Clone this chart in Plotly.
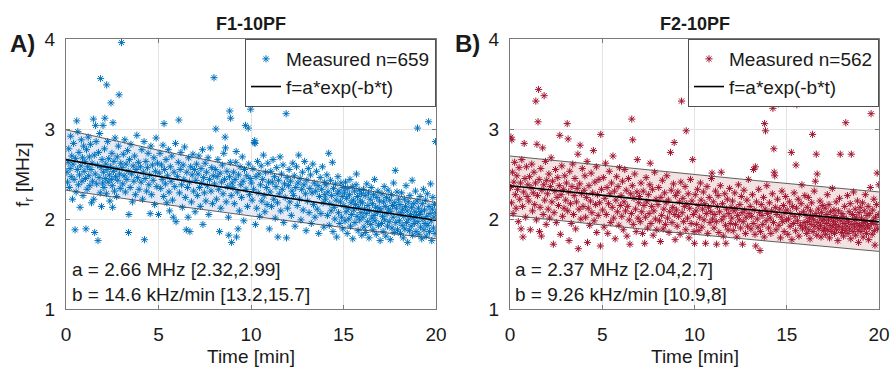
import numpy as np
import plotly.graph_objects as go

FONT = "Liberation Sans, Arial, sans-serif"
W, H = 893, 368

# ---------------- data ----------------
titles = ["F1-10PF", "F2-10PF"]
panel_labels = ["A)", "B)"]
x_ticks = [0, 5, 10, 15, 20]
y_ticks = [1, 2, 3, 4]

# fit parameters: a [MHz], b [1/min] (shown as kHz/min), confidence bounds
a_fit = [2.66, 2.37]
b_fit = [0.0146, 0.00926]
a_ci = [[2.32, 2.99], [2.04, 2.70]]
b_ci = [[0.0132, 0.0157], [0.0109, 0.0080]]
n_points = [659, 562]
fit_text_a = ["a = 2.66 MHz [2.32,2.99]", "a = 2.37 MHz [2.04,2.7]"]
fit_text_b = ["b = 14.6 kHz/min [13.2,15.7]", "b = 9.26 kHz/min [10.9,8]"]

# measured points panel A (time [min], f_r [MHz])
meas_a = [
    (0.05,2.52),(0.08,2.41),(0.12,2.63),(0.15,2.78),(0.18,2.35),(0.22,2.56),(0.25,2.92),(0.28,2.47),(0.31,2.70),(0.35,2.22),(0.38,2.61),(0.41,2.84),(0.44,2.44),(0.49,1.88),(0.52,2.67),(0.55,2.30),(0.58,3.09),(0.61,2.55),(0.64,2.97),(0.67,2.38),(0.70,2.74),(0.73,2.49),(0.76,2.13),(0.80,2.59),(0.83,2.88),(0.86,2.42),(0.89,2.68),(0.92,2.26),(0.95,2.81),(0.98,2.53),
    (1.02,2.64),(1.05,2.45),(1.08,1.89),(1.11,2.77),(1.14,2.33),(1.17,2.58),(1.20,2.91),(1.23,2.48),(1.26,2.69),(1.29,2.37),(1.32,2.83),(1.35,2.55),(1.38,2.18),(1.41,2.62),(1.44,2.42),(1.48,3.11),(1.50,2.22),(1.53,2.71),(1.55,1.85),(1.58,2.50),(1.60,3.04),(1.63,2.86),(1.66,2.39),(1.70,2.60),(1.73,1.76),(1.76,2.74),(1.79,2.46),(1.82,2.95),(1.85,2.29),(1.87,3.56),(1.90,2.57),(1.92,2.14),(1.95,2.66),(1.98,2.40),
    (2.00,3.04),(2.02,2.52),(2.05,2.35),(2.08,2.78),(2.10,3.12),(2.12,2.45),(2.15,2.61),(2.18,2.28),(2.20,3.49),(2.22,2.55),(2.25,2.86),(2.28,2.41),(2.31,2.67),(2.34,2.49),(2.37,2.20),(2.40,2.58),(2.43,3.29),(2.45,2.44),(2.48,2.73),(2.50,2.37),(2.52,2.13),(2.54,3.07),(2.56,2.53),(2.59,2.64),(2.62,2.31),(2.65,2.90),(2.68,2.47),(2.71,2.56),(2.74,2.25),(2.77,2.69),(2.80,2.43),(2.83,2.81),(2.87,3.38),(2.90,2.50),(2.93,2.34),(2.96,2.62),
    (3.00,3.96),(3.03,2.57),(3.07,2.39),(3.10,2.72),(3.14,2.48),(3.18,2.88),(3.21,2.30),(3.25,2.61),(3.29,2.44),(3.33,2.76),(3.36,2.53),(3.38,1.85),(3.40,2.05),(3.43,2.66),(3.47,2.35),(3.51,2.83),(3.55,2.50),(3.59,2.19),(3.63,2.59),(3.67,2.42),(3.71,2.70),(3.75,2.27),(3.79,2.55),(3.83,2.93),(3.87,2.46),(3.91,2.63),(3.95,2.33),
    (4.02,2.58),(4.06,2.41),(4.10,2.77),(4.14,2.22),(4.18,2.52),(4.22,2.86),(4.24,1.77),(4.28,2.45),(4.32,2.64),(4.36,2.31),(4.40,2.57),(4.44,2.73),(4.48,2.38),(4.52,2.49),(4.55,2.06),(4.59,2.81),(4.63,2.27),(4.67,2.60),(4.71,2.43),(4.75,2.68),(4.79,2.16),(4.83,2.53),(4.87,2.90),(4.91,2.36),(4.95,2.62),
    (5.00,2.05),(5.04,2.51),(5.08,2.73),(5.12,2.34),(5.16,2.60),(5.20,2.44),(5.24,2.82),(5.28,2.25),(5.30,3.06),(5.33,2.55),(5.37,2.39),(5.41,2.66),(5.45,2.18),(5.49,2.48),(5.53,2.77),(5.57,2.30),(5.60,2.09),(5.64,2.58),(5.68,2.42),(5.72,2.70),(5.76,2.21),(5.80,2.02),(5.84,2.52),(5.88,2.36),(5.92,2.84),(5.95,1.97),
    (6.03,2.47),(6.07,2.63),(6.10,3.10),(6.13,2.29),(6.17,2.55),(6.21,2.74),(6.25,2.38),(6.29,2.13),(6.33,2.60),(6.37,2.44),(6.41,2.80),(6.45,2.24),(6.50,1.88),(6.53,2.52),(6.57,2.35),(6.60,2.02),(6.63,2.68),(6.67,2.41),(6.70,1.86),(6.74,2.58),(6.78,2.19),(6.82,2.49),(6.86,2.72),(6.90,2.31),(6.94,2.55),(6.98,2.08),
    (7.02,2.43),(7.06,2.61),(7.10,2.26),(7.14,2.50),(7.18,2.70),(7.22,2.35),(7.26,2.14),(7.30,2.56),(7.34,2.40),(7.38,2.77),(7.40,1.94),(7.44,2.46),(7.48,2.29),(7.52,2.62),(7.56,2.20),(7.60,2.52),(7.64,2.37),(7.68,2.68),(7.72,2.05),(7.76,2.44),(7.80,2.79),(7.84,2.31),(7.88,2.57),(7.92,2.17),(7.96,2.48),
    (8.00,3.57),(8.03,2.39),(8.07,2.55),(8.10,3.00),(8.13,2.22),(8.17,2.47),(8.21,2.66),(8.25,2.33),(8.30,1.86),(8.33,2.51),(8.37,2.12),(8.41,2.41),(8.45,2.60),(8.49,2.28),(8.53,2.73),(8.57,2.44),(8.60,2.91),(8.62,2.79),(8.66,2.19),(8.70,2.53),(8.74,2.36),(8.78,2.02),(8.80,1.82),(8.84,2.47),(8.85,3.20),(8.88,2.63),(8.90,3.12),(8.93,2.26),(8.95,1.74),(8.98,2.40),
    (9.02,2.35),(9.06,2.52),(9.10,2.17),(9.14,2.44),(9.18,2.63),(9.20,2.75),(9.22,1.80),(9.26,2.30),(9.30,1.89),(9.33,2.49),(9.37,2.09),(9.41,2.58),(9.45,2.38),(9.49,2.24),(9.53,2.69),(9.57,2.42),(9.61,1.98),(9.65,2.55),(9.70,3.04),(9.73,2.33),(9.77,2.48),(9.81,2.14),(9.85,3.01),(9.88,2.61),(9.92,2.27),(9.96,2.45),(9.98,3.22),
    (10.02,2.40),(10.06,2.21),(10.10,2.56),(10.14,2.33),(10.18,2.85),(10.20,2.87),(10.22,2.84),(10.24,1.94),(10.27,2.47),(10.31,2.12),(10.35,2.64),(10.39,2.29),(10.43,2.50),(10.47,2.03),(10.51,2.38),(10.55,2.59),(10.59,2.20),(10.63,2.44),(10.67,2.71),(10.71,2.26),(10.75,2.08),(10.79,2.52),(10.83,2.35),(10.87,2.16),(10.91,2.62),(10.95,2.41),(10.99,1.89),
    (11.03,2.30),(11.07,2.53),(11.11,2.14),(11.15,2.41),(11.19,2.66),(11.23,2.22),(11.27,2.47),(11.31,2.01),(11.35,2.36),(11.39,2.57),(11.43,2.18),(11.45,1.80),(11.49,2.43),(11.53,2.28),(11.57,2.69),(11.61,2.09),(11.65,2.50),(11.69,2.33),(11.73,2.60),(11.77,1.96),(11.81,2.39),(11.85,2.24),(11.90,3.17),(11.92,1.79),(11.95,2.46),(11.98,2.12),
    (12.02,2.37),(12.06,2.55),(12.10,2.19),(12.14,2.42),(12.18,2.04),(12.22,2.31),(12.26,2.62),(12.30,2.26),(12.34,2.48),(12.38,1.92),(12.42,2.35),(12.46,2.58),(12.50,2.15),(12.54,2.40),(12.58,2.71),(12.62,2.22),(12.66,2.45),(12.70,1.99),(12.74,2.33),(12.78,2.52),(12.82,2.10),(12.86,2.38),(12.90,2.64),(12.94,2.28),(12.98,1.87),
    (13.02,2.43),(13.06,2.20),(13.10,2.56),(13.14,2.07),(13.18,2.34),(13.22,2.49),(13.26,1.95),(13.30,2.29),(13.34,2.61),(13.38,2.16),(13.42,2.40),(13.46,2.02),(13.50,2.31),(13.54,2.53),(13.58,2.11),(13.62,2.37),(13.66,1.84),(13.70,2.25),(13.74,2.46),(13.78,2.06),(13.82,2.33),(13.86,2.58),(13.90,2.18),(13.94,1.91),(13.98,2.41),(13.99,2.27),
    (14.02,2.22),(14.06,2.38),(14.10,2.49),(14.13,2.04),(14.16,2.30),(14.20,2.73),(14.23,1.93),(14.26,2.17),(14.30,2.43),(14.33,2.09),(14.36,2.26),(14.40,2.63),(14.43,1.86),(14.46,2.34),(14.50,2.13),(14.53,2.00),(14.56,2.39),(14.60,2.21),(14.63,1.80),(14.66,2.28),(14.70,2.47),(14.73,2.07),(14.76,2.31),(14.80,1.95),(14.83,2.19),(14.86,2.40),(14.90,2.02),(14.93,2.25),(14.96,1.89),(14.99,2.35),
    (15.02,2.15),(15.05,2.29),(15.08,1.98),(15.11,2.41),(15.14,2.08),(15.17,2.23),(15.20,1.84),(15.23,2.34),(15.26,2.12),(15.29,2.00),(15.32,2.27),(15.35,2.44),(15.38,1.92),(15.41,2.18),(15.44,2.05),(15.47,2.36),(15.50,1.78),(15.53,2.21),(15.56,2.10),(15.59,2.31),(15.62,1.96),(15.65,2.16),(15.68,2.38),(15.70,2.50),(15.73,2.03),(15.76,2.25),(15.79,1.87),(15.82,2.13),(15.85,2.32),(15.88,1.99),(15.91,2.20),(15.94,2.07),(15.97,2.28),(15.99,1.82),
    (16.02,2.18),(16.05,2.02),(16.08,2.33),(16.11,1.91),(16.14,2.11),(16.17,2.26),(16.20,1.85),(16.23,2.06),(16.26,2.39),(16.29,1.97),(16.32,2.15),(16.35,2.29),(16.38,1.79),(16.41,2.09),(16.44,2.22),(16.47,1.94),(16.50,2.35),(16.53,2.01),(16.56,2.17),(16.59,1.88),(16.62,2.27),(16.65,2.04),(16.68,2.44),(16.71,1.98),(16.74,2.13),(16.77,1.83),(16.80,2.24),(16.83,2.07),(16.86,2.31),(16.89,1.93),(16.92,2.12),(16.95,2.20),(16.98,1.76),
    (17.02,2.10),(17.05,1.95),(17.08,2.28),(17.11,2.03),(17.14,1.86),(17.17,2.19),(17.20,2.36),(17.23,1.99),(17.26,2.14),(17.29,1.81),(17.32,2.24),(17.35,2.06),(17.38,1.92),(17.41,2.32),(17.44,2.11),(17.47,1.97),(17.50,2.21),(17.53,1.77),(17.56,2.08),(17.59,2.27),(17.62,1.90),(17.65,2.15),(17.68,2.02),(17.71,2.40),(17.74,1.85),(17.77,2.18),(17.80,2.54),(17.83,1.96),(17.86,2.12),(17.89,2.30),(17.92,1.88),(17.95,2.05),(17.98,2.22),
    (18.02,1.98),(18.05,2.16),(18.08,1.84),(18.11,2.07),(18.14,2.29),(18.17,1.93),(18.20,2.11),(18.23,1.79),(18.26,2.03),(18.29,2.22),(18.32,1.89),(18.35,2.14),(18.38,2.37),(18.41,1.96),(18.44,2.09),(18.47,1.74),(18.50,2.19),(18.53,2.00),(18.56,1.87),(18.59,2.26),(18.62,2.05),(18.65,1.92),(18.68,2.13),(18.71,2.43),(18.74,1.82),(18.77,2.01),(18.80,2.17),(18.83,1.95),(18.86,2.08),(18.89,2.31),(18.92,1.86),(18.95,2.04),(18.98,2.20),
    (19.00,3.01),(19.02,1.97),(19.05,2.12),(19.08,1.83),(19.11,2.05),(19.14,2.25),(19.17,1.91),(19.20,2.08),(19.23,1.78),(19.26,2.17),(19.29,2.00),(19.32,2.33),(19.35,1.88),(19.38,2.10),(19.41,1.95),(19.44,2.21),(19.47,1.81),(19.50,2.03),(19.53,2.28),(19.56,1.93),(19.60,3.08),(19.62,2.14),(19.65,1.86),(19.68,2.06),(19.71,2.39),(19.74,1.98),(19.77,1.76),(19.80,2.11),(19.83,2.24),(19.86,1.90),(19.89,2.02),(19.92,2.16),(19.95,1.84),(19.97,2.86),(19.99,2.07),
]

# measured points panel B (time [min], f_r [MHz])
meas_b = [
    (0.03,2.35),(0.05,2.91),(0.08,2.18),(0.10,2.88),(0.13,2.52),(0.17,2.06),(0.21,2.41),(0.25,2.63),(0.29,2.27),(0.33,2.12),(0.37,2.48),(0.41,2.33),(0.45,1.97),(0.49,2.57),(0.53,2.22),(0.57,2.40),(0.60,1.89),(0.64,2.66),(0.68,2.14),(0.70,1.80),(0.74,2.30),(0.77,2.84),(0.81,2.45),(0.85,2.02),(0.89,2.58),(0.93,2.25),(0.97,2.38),
    (1.02,2.20),(1.06,2.47),(1.10,1.88),(1.14,2.35),(1.18,2.61),(1.22,2.09),(1.26,2.29),(1.30,2.52),(1.34,2.16),(1.38,2.40),(1.40,3.31),(1.43,1.99),(1.46,2.83),(1.49,2.26),(1.52,3.08),(1.55,3.44),(1.58,2.44),(1.60,1.86),(1.63,2.13),(1.67,2.56),(1.70,1.81),(1.73,2.32),(1.77,2.79),(1.80,2.05),(1.83,2.38),(1.85,3.37),(1.88,2.21),(1.92,2.64),(1.96,1.94),(1.99,2.43),
    (2.03,2.28),(2.07,2.11),(2.11,2.50),(2.15,2.01),(2.19,2.36),(2.23,2.68),(2.27,2.19),(2.31,2.42),(2.35,1.72),(2.39,2.07),(2.43,2.31),(2.47,2.55),(2.51,1.96),(2.55,2.24),(2.59,2.46),(2.63,2.15),(2.67,2.37),(2.70,2.93),(2.73,1.83),(2.77,2.27),(2.81,2.59),(2.85,2.03),(2.89,2.33),(2.93,2.12),(2.97,2.48),
    (3.02,2.21),(3.06,2.40),(3.10,3.06),(3.13,2.09),(3.15,2.89),(3.18,2.30),(3.20,1.76),(3.24,2.53),(3.28,2.17),(3.32,1.95),(3.36,2.36),(3.40,2.61),(3.44,2.05),(3.48,2.26),(3.52,2.45),(3.56,1.89),(3.60,2.19),(3.64,2.34),(3.68,2.72),(3.70,1.67),(3.74,2.11),(3.78,2.39),(3.80,2.82),(3.84,2.00),(3.88,2.28),(3.92,2.56),(3.96,2.14),
    (4.02,2.32),(4.06,2.48),(4.10,2.02),(4.14,2.24),(4.18,2.64),(4.20,1.74),(4.24,2.12),(4.28,2.37),(4.32,1.93),(4.36,2.20),(4.40,2.51),(4.44,2.07),(4.48,2.29),(4.52,2.76),(4.56,1.98),(4.60,2.41),(4.64,2.16),(4.68,2.58),(4.70,1.85),(4.74,2.27),(4.78,2.04),(4.82,2.44),(4.86,2.18),(4.90,1.70),(4.92,2.94),(4.96,2.33),
    (5.02,2.10),(5.06,2.46),(5.10,1.91),(5.14,2.23),(5.18,2.62),(5.22,2.05),(5.26,2.35),(5.30,1.84),(5.34,2.17),(5.38,2.53),(5.42,2.28),(5.46,1.96),(5.50,2.40),(5.54,2.13),(5.58,2.70),(5.62,2.01),(5.66,2.31),(5.70,1.78),(5.74,2.21),(5.78,2.47),(5.82,2.08),(5.86,2.36),(5.90,1.93),(5.94,2.57),(5.98,2.15),
    (6.02,2.26),(6.06,2.03),(6.10,2.42),(6.14,1.88),(6.18,2.19),(6.22,2.55),(6.26,2.09),(6.30,2.32),(6.34,1.81),(6.38,2.14),(6.42,2.45),(6.46,1.99),(6.50,1.72),(6.54,2.28),(6.58,2.06),(6.60,3.11),(6.63,2.37),(6.65,2.88),(6.68,1.94),(6.72,2.23),(6.76,2.50),(6.80,2.11),(6.84,1.86),(6.88,2.30),(6.90,2.66),(6.94,2.01),(6.98,2.18),
    (7.02,2.25),(7.06,1.97),(7.10,2.40),(7.14,2.08),(7.18,1.84),(7.22,2.31),(7.26,2.15),(7.30,1.73),(7.34,2.02),(7.38,2.46),(7.42,2.19),(7.46,1.90),(7.50,2.27),(7.54,2.06),(7.58,2.38),(7.60,2.62),(7.64,1.95),(7.68,2.14),(7.72,2.33),(7.76,1.82),(7.80,2.09),(7.84,2.52),(7.88,2.00),(7.92,2.22),(7.96,1.88),
    (8.02,2.16),(8.06,2.35),(8.10,1.98),(8.15,1.75),(8.18,2.24),(8.22,2.04),(8.26,2.43),(8.30,1.89),(8.34,2.11),(8.38,2.29),(8.42,1.94),(8.46,2.18),(8.50,2.48),(8.54,2.01),(8.58,2.21),(8.62,1.85),(8.66,2.08),(8.70,2.74),(8.74,2.32),(8.78,1.96),(8.82,2.13),(8.86,2.39),(8.90,2.85),(8.93,2.05),(8.95,1.77),(8.98,2.26),
    (9.02,2.10),(9.06,1.92),(9.10,2.30),(9.14,2.03),(9.18,2.19),(9.22,1.83),(9.26,2.41),(9.30,3.31),(9.33,2.07),(9.37,2.23),(9.41,1.97),(9.45,2.14),(9.49,2.36),(9.53,1.88),(9.55,2.98),(9.58,2.17),(9.62,2.01),(9.66,2.28),(9.70,1.79),(9.74,2.12),(9.78,2.44),(9.82,1.95),(9.86,2.20),(9.90,2.66),(9.94,2.05),(9.98,1.86),
    (10.00,1.73),(10.04,2.27),(10.08,2.09),(10.12,1.94),(10.16,2.33),(10.20,2.15),(10.24,1.87),(10.28,2.02),(10.32,2.40),(10.36,2.21),(10.40,1.91),(10.44,2.11),(10.48,2.30),(10.52,1.99),(10.56,2.17),(10.60,1.73),(10.64,2.06),(10.68,2.36),(10.72,1.84),(10.76,2.13),(10.80,2.24),(10.84,1.96),(10.88,2.08),(10.92,2.45),(10.95,2.51),(10.98,2.00),
    (11.02,2.19),(11.06,1.90),(11.10,2.05),(11.14,2.31),(11.18,1.97),(11.20,1.72),(11.24,2.14),(11.28,2.26),(11.32,1.85),(11.36,2.08),(11.40,2.37),(11.45,2.52),(11.48,1.99),(11.52,2.17),(11.56,1.81),(11.60,2.03),(11.64,2.28),(11.68,1.93),(11.70,1.73),(11.74,2.11),(11.78,2.22),(11.82,1.88),(11.86,2.06),(11.90,2.34),(11.94,1.95),(11.98,2.13),
    (12.02,2.01),(12.06,2.20),(12.10,1.87),(12.14,2.09),(12.18,2.29),(12.22,1.94),(12.26,2.12),(12.30,1.80),(12.34,2.04),(12.38,2.38),(12.42,1.99),(12.46,2.16),(12.50,1.90),(12.54,2.25),(12.58,2.07),(12.60,1.72),(12.64,1.97),(12.68,2.32),(12.72,2.10),(12.76,1.84),(12.80,2.02),(12.84,2.21),(12.88,1.92),(12.92,2.44),(12.96,2.06),
    (13.02,2.14),(13.06,1.89),(13.10,2.03),(13.14,2.27),(13.18,1.95),(13.20,2.55),(13.24,2.10),(13.28,1.83),(13.30,2.58),(13.32,1.70),(13.36,2.19),(13.40,2.00),(13.44,1.91),(13.48,2.33),(13.52,2.07),(13.55,1.65),(13.58,1.86),(13.62,2.16),(13.66,2.04),(13.70,1.94),(13.74,2.24),(13.78,1.80),(13.80,3.06),(13.83,2.11),(13.85,2.98),(13.88,1.98),(13.92,2.37),(13.96,2.06),
    (14.02,1.90),(14.06,2.18),(14.10,2.01),(14.14,1.84),(14.18,2.09),(14.22,2.28),(14.25,3.23),(14.28,1.96),(14.30,2.78),(14.32,2.52),(14.35,2.48),(14.38,2.13),(14.42,1.88),(14.46,2.05),(14.50,2.22),(14.55,3.28),(14.58,1.93),(14.62,2.11),(14.66,1.79),(14.70,2.02),(14.74,2.31),(14.78,1.97),(14.82,2.15),(14.86,1.86),(14.90,2.07),(14.94,2.25),(14.98,1.99),
    (15.02,2.10),(15.06,1.83),(15.10,2.00),(15.14,2.19),(15.18,1.92),(15.22,2.06),(15.25,2.74),(15.28,1.77),(15.32,2.14),(15.36,1.95),(15.40,2.29),(15.44,2.03),(15.48,1.87),(15.50,2.60),(15.53,2.12),(15.55,3.27),(15.58,1.98),(15.62,2.22),(15.66,1.81),(15.70,2.05),(15.74,1.93),(15.78,2.17),(15.82,2.38),(15.86,1.89),(15.90,2.08),(15.94,1.96),(15.98,2.26),
    (16.02,1.91),(16.05,2.04),(16.08,1.84),(16.11,2.13),(16.14,1.97),(16.17,2.24),(16.20,1.88),(16.23,2.01),(16.26,1.78),(16.29,2.09),(16.32,1.94),(16.35,2.18),(16.38,2.03),(16.40,2.94),(16.43,1.86),(16.46,1.99),(16.49,2.31),(16.52,1.92),(16.55,2.42),(16.58,2.06),(16.60,2.72),(16.63,1.82),(16.65,2.50),(16.68,1.96),(16.71,2.11),(16.74,1.89),(16.77,2.02),(16.80,2.20),(16.83,1.93),(16.86,1.80),(16.89,2.07),(16.92,1.98),(16.95,2.15),(16.98,1.87),
    (17.02,2.00),(17.05,1.90),(17.08,2.12),(17.11,1.83),(17.14,1.95),(17.17,2.05),(17.20,2.27),(17.23,1.88),(17.26,1.99),(17.29,2.16),(17.32,1.79),(17.35,1.93),(17.38,2.08),(17.41,1.86),(17.44,2.01),(17.47,2.34),(17.50,1.91),(17.53,1.97),(17.56,2.10),(17.59,1.84),(17.62,2.04),(17.65,1.94),(17.68,2.19),(17.71,1.88),(17.74,2.00),(17.77,1.76),(17.80,2.09),(17.83,1.92),(17.86,2.23),(17.90,2.72),(17.93,1.98),(17.96,1.85),(17.99,2.06),
    (18.02,1.90),(18.05,2.03),(18.08,1.81),(18.11,1.95),(18.14,2.14),(18.17,1.87),(18.20,3.07),(18.23,2.00),(18.26,1.92),(18.29,2.26),(18.32,1.84),(18.35,1.97),(18.38,2.08),(18.41,1.89),(18.44,2.17),(18.47,1.78),(18.50,2.72),(18.53,1.94),(18.56,2.05),(18.59,1.86),(18.62,2.30),(18.65,1.99),(18.68,1.91),(18.71,2.11),(18.74,1.82),(18.77,2.02),(18.80,1.95),(18.83,2.20),(18.86,1.88),(18.89,1.74),(18.92,2.07),(18.95,1.93),(18.98,2.13),
    (19.02,1.86),(19.05,2.01),(19.08,1.92),(19.11,2.18),(19.14,1.80),(19.17,1.96),(19.20,2.09),(19.23,1.89),(19.26,2.27),(19.29,1.98),(19.32,1.84),(19.35,2.04),(19.38,1.93),(19.41,2.14),(19.44,1.77),(19.47,1.90),(19.50,2.06),(19.53,2.35),(19.57,3.17),(19.60,1.95),(19.63,1.83),(19.66,2.10),(19.69,1.99),(19.72,2.22),(19.75,1.87),(19.78,1.71),(19.81,2.02),(19.84,1.94),(19.87,2.16),(19.90,2.51),(19.93,1.89),(19.96,2.05),(19.99,2.38),
]

t_a = [p[0] for p in meas_a]
f_a = [p[1] for p in meas_a]
t_b = [p[0] for p in meas_b]
f_b = [p[1] for p in meas_b]

# ---------------- styling ----------------
point_colors = ["#0072BD", "#A2142F"]
band_colors = ["#E4E9F5", "#F3E2E2"]
TEXT = "#1a1a1a"


def px(x):
    return x / W


def py(y):
    return 1 - y / H


x_domains = [[px(66), px(436)], [px(510), px(879)]]
y_domain = [py(309), py(39)]

fig = go.Figure()
t_grid = np.linspace(0, 20, 201)
series = [(t_a, f_a), (t_b, f_b)]

for i in range(2):
    xr = "x" if i == 0 else "x2"
    yr = "y" if i == 0 else "y2"
    lg = "legend" if i == 0 else "legend2"
    lower = a_ci[i][0] * np.exp(-b_ci[i][0] * t_grid)
    upper = a_ci[i][1] * np.exp(-b_ci[i][1] * t_grid)
    center = a_fit[i] * np.exp(-b_fit[i] * t_grid)
    # band fill
    fig.add_trace(go.Scatter(x=t_grid, y=lower, mode="lines", line=dict(width=0, color=band_colors[i]),
                             showlegend=False, hoverinfo="skip", xaxis=xr, yaxis=yr, legend=lg))
    fig.add_trace(go.Scatter(x=t_grid, y=upper, mode="lines", line=dict(width=0, color=band_colors[i]),
                             fill="tonexty", fillcolor=band_colors[i],
                             showlegend=False, hoverinfo="skip", xaxis=xr, yaxis=yr, legend=lg))
    # measured points
    tt, ff = series[i]
    fig.add_trace(go.Scatter(x=tt, y=ff, mode="markers", name=f"Measured n={n_points[i]}",
                             marker=dict(symbol="asterisk-open", size=6, color=point_colors[i],
                                         line=dict(color=point_colors[i], width=1)),
                             xaxis=xr, yaxis=yr, legend=lg))
    # band edges
    for yy in (lower, upper):
        fig.add_trace(go.Scatter(x=t_grid, y=yy, mode="lines", line=dict(color="#3a3a3a", width=0.8),
                                 showlegend=False, hoverinfo="skip", xaxis=xr, yaxis=yr, legend=lg))
    # fit
    fig.add_trace(go.Scatter(x=t_grid, y=center, mode="lines", name="f=a*exp(-b*t)",
                             line=dict(color="black", width=1.6),
                             xaxis=xr, yaxis=yr, legend=lg))

axis_common = dict(showgrid=True, gridcolor="#e3e3e3", gridwidth=1, zeroline=False,
                   showline=True, linecolor="#7a7a7a", linewidth=1, mirror="ticks",
                   ticks="inside", ticklen=4, tickcolor="#7a7a7a", automargin=False,
                   tickfont=dict(family=FONT, size=19, color=TEXT))

legend_common = dict(xanchor="right", yanchor="top", xref="paper", yref="paper",
                     bgcolor="white", bordercolor="#505050", borderwidth=1, tracegroupgap=0,
                     traceorder="normal", font=dict(family=FONT, size=19, color=TEXT))

fig.update_layout(
    width=W, height=H, margin=dict(l=0, r=0, t=0, b=0, pad=0, autoexpand=False),
    paper_bgcolor="white", plot_bgcolor="white",
    xaxis=dict(domain=x_domains[0], anchor="y", range=[0, 20], tickvals=x_ticks,
               ticklabelstandoff=8, **axis_common),
    yaxis=dict(domain=y_domain, anchor="x", range=[1, 4], tickvals=y_ticks,
               ticklabelstandoff=6, **axis_common),
    xaxis2=dict(domain=x_domains[1], anchor="y2", range=[0, 20], tickvals=x_ticks,
                ticklabelstandoff=8, **axis_common),
    yaxis2=dict(domain=y_domain, anchor="x2", range=[1, 4], tickvals=y_ticks,
                ticklabelstandoff=6, **axis_common),
    legend=dict(x=px(436), y=py(39), **legend_common),
    legend2=dict(x=px(879), y=py(39), **legend_common),
    showlegend=True,
)

annotations = []
centers = [(66 + 436) / 2, (510 + 879) / 2]
label_x = [8, 453]
text_x = [70, 513]
for i in range(2):
    annotations.append(dict(text=f"<b>{titles[i]}</b>", x=px(centers[i]), y=py(24), xref="paper", yref="paper",
                            showarrow=False, xanchor="center", yanchor="middle",
                            font=dict(family=FONT, size=18, color=TEXT)))
    annotations.append(dict(text=f"<b>{panel_labels[i]}</b>", x=px(label_x[i]), y=py(43), xref="paper", yref="paper",
                            showarrow=False, xanchor="left", yanchor="middle",
                            font=dict(family=FONT, size=24, color=TEXT)))
    annotations.append(dict(text="Time [min]", x=px(centers[i]), y=py(356), xref="paper", yref="paper",
                            showarrow=False, xanchor="center", yanchor="middle",
                            font=dict(family=FONT, size=19, color=TEXT)))
    annotations.append(dict(text=fit_text_a[i], x=px(text_x[i]), y=py(269), xref="paper", yref="paper",
                            showarrow=False, xanchor="left", yanchor="middle",
                            font=dict(family=FONT, size=19, color=TEXT)))
    annotations.append(dict(text=fit_text_b[i], x=px(text_x[i]), y=py(294), xref="paper", yref="paper",
                            showarrow=False, xanchor="left", yanchor="middle",
                            font=dict(family=FONT, size=19, color=TEXT)))
annotations.append(dict(text="f<sub>r</sub> [MHz]", x=px(24), y=py(175), xref="paper", yref="paper",
                        showarrow=False, textangle=-90, xanchor="center", yanchor="middle",
                        font=dict(family=FONT, size=19, color=TEXT)))
fig.update_layout(annotations=annotations)

fig.write_html("out.html", config={"responsive": False, "displayModeBar": False},
               post_script="document.body.style.margin='0';document.body.style.overflow='hidden';")
